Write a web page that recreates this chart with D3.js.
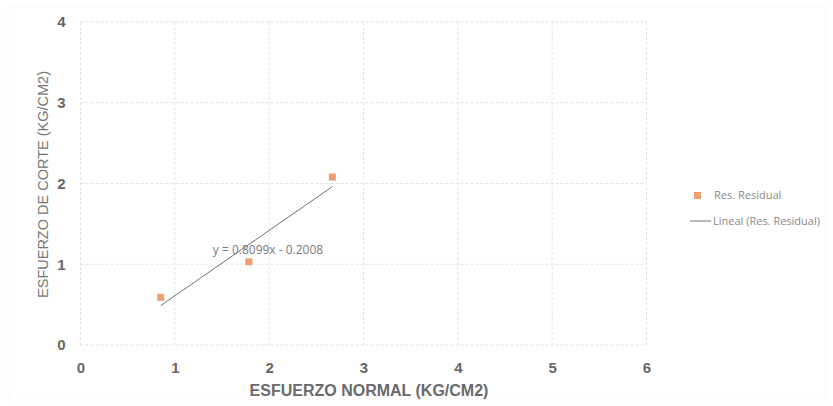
<!DOCTYPE html>
<html>
<head>
<meta charset="utf-8">
<script src="https://cdn.jsdelivr.net/npm/d3@7"></script>
<style>
  body { margin: 0; background: #fff; }
  svg { display: block; }
  .tick-lbl { font-family: Arial, "Liberation Sans", sans-serif; font-weight: bold; font-size: 15px; fill: #666; }
  .grid line { stroke: #e2e2e2; stroke-width: 1; stroke-dasharray: 3, 2; }
  .leg { font-family: "Open Sans", sans-serif; font-size: 11px; fill: #8a8a8a; }
</style>
</head>
<body>
<svg id="chart" width="833" height="406"></svg>
<script>
// valores
var esfNormal = [0.85, 1.785, 2.67];
var esfCorte = [0.59, 1.03, 2.08];
var pendiente = 0.8099, intercepto = -0.2008;
var xTicks = [0, 1, 2, 3, 4, 5, 6];
var yTicks = [0, 1, 2, 3, 4];
var serie = 'Res. Residual';
var serieLineal = 'Lineal (Res. Residual)';

var svg = d3.select('#chart');

var scaleX = d3.scaleLinear().domain([0, 6]).range([80.5, 646.5]);
var scaleY = d3.scaleLinear().domain([0, 4]).range([345, 22]);

// marco del grafico (escaneado, muy tenue)
svg.append('rect')
    .attr('x', 8).attr('y', 6)
    .attr('width', 818).attr('height', 394)
    .attr('fill', 'none')
    .attr('stroke', '#efefef')
    .attr('stroke-dasharray', '2, 2');

// grid
var grid = svg.append('g').attr('class', 'grid');
grid.selectAll('.gx').data(xTicks).enter().append('line')
    .attr('x1', function(d){ return scaleX(d); })
    .attr('x2', function(d){ return scaleX(d); })
    .attr('y1', scaleY(0))
    .attr('y2', scaleY(4));
grid.selectAll('.gy').data(yTicks).enter().append('line')
    .attr('x1', scaleX(0))
    .attr('x2', scaleX(6))
    .attr('y1', function(d){ return scaleY(d); })
    .attr('y2', function(d){ return scaleY(d); });

// ejes (solo etiquetas)
var xAxis = svg.append('g')
    .attr('transform', 'translate(0,' + (scaleY(0) + 14) + ')')
    .call(d3.axisBottom(scaleX).tickValues(xTicks).tickSize(0).tickFormat(d3.format('d')));
xAxis.select('.domain').remove();
xAxis.selectAll('text').attr('class', 'tick-lbl').attr('fill', null);

var yAxis = svg.append('g')
    .attr('transform', 'translate(' + (scaleX(0) - 12) + ',0)')
    .call(d3.axisLeft(scaleY).tickValues(yTicks).tickSize(0).tickFormat(d3.format('d')));
yAxis.select('.domain').remove();
yAxis.selectAll('text').attr('class', 'tick-lbl').attr('fill', null);

// titulos de ejes
svg.append('text')
    .attr('x', 369)
    .attr('y', 396)
    .attr('text-anchor', 'middle')
    .style('font-family', 'Arial, "Liberation Sans", sans-serif')
    .style('font-weight', 'bold')
    .style('font-size', '16px')
    .style('fill', '#6a6a6a')
    .text('ESFUERZO NORMAL (KG/CM2)');

svg.append('text')
    .attr('transform', 'translate(48,' + ((scaleY(0) + scaleY(4)) / 2 + 1) + ') rotate(-90)')
    .attr('text-anchor', 'middle')
    .style('font-family', 'Arial, "Liberation Sans", sans-serif')
    .style('font-size', '14.5px')
    .style('fill', '#777')
    .text('ESFUERZO DE CORTE (KG/CM2)');

// linea de tendencia
var xMin = d3.min(esfNormal), xMax = d3.max(esfNormal);
svg.append('line')
    .attr('x1', scaleX(xMin))
    .attr('y1', scaleY(pendiente * xMin + intercepto))
    .attr('x2', scaleX(xMax))
    .attr('y2', scaleY(pendiente * xMax + intercepto))
    .attr('stroke', '#707070')
    .attr('stroke-width', 1);

// puntos
svg.selectAll('.pt').data(esfNormal).enter().append('rect')
    .attr('class', 'pt')
    .attr('x', function(d){ return scaleX(d) - 3.5; })
    .attr('y', function(d, i){ return scaleY(esfCorte[i]) - 3.5; })
    .attr('width', 7)
    .attr('height', 7)
    .attr('fill', '#ef9e72');

// ecuacion
svg.append('text')
    .attr('x', 268)
    .attr('y', 254)
    .attr('text-anchor', 'middle')
    .style('font-family', '"Open Sans", sans-serif')
    .style('font-size', '12px')
    .style('fill', '#7a7a7a')
    .text('y = ' + pendiente.toFixed(4) + 'x - ' + Math.abs(intercepto).toFixed(4));

// leyenda
var leg = svg.append('g');
leg.append('rect')
    .attr('x', 694).attr('y', 192)
    .attr('width', 7).attr('height', 7)
    .attr('fill', '#ef9e72');
leg.append('text')
    .attr('class', 'leg')
    .attr('x', 714).attr('y', 199)
    .text(serie);
leg.append('line')
    .attr('x1', 690).attr('x2', 711)
    .attr('y1', 221).attr('y2', 221)
    .attr('stroke', '#707070');
leg.append('text')
    .attr('class', 'leg')
    .attr('x', 713).attr('y', 225)
    .text(serieLineal);
</script>
</body>
</html>
